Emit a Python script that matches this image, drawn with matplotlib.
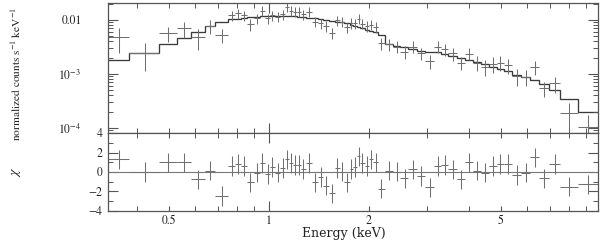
import numpy as np
import matplotlib
matplotlib.use('Agg')
import matplotlib.pyplot as plt
from matplotlib.ticker import FixedLocator, FixedFormatter, NullFormatter, LogLocator, MultipleLocator

# ---------------- data ----------------
energy_edges = [0.3274, 0.3788, 0.4663, 0.5283, 0.5809, 0.6418, 0.6876, 0.7551, 0.7900, 0.8235,
                0.8602, 0.8981, 0.9363, 0.9727, 1.007, 1.041, 1.082, 1.120, 1.150, 1.181,
                1.212, 1.247, 1.291, 1.345, 1.405, 1.457, 1.513, 1.577, 1.633, 1.685,
                1.748, 1.795, 1.837, 1.884, 1.940, 1.998, 2.058, 2.130, 2.231, 2.355,
                2.489, 2.631, 2.786, 2.957, 3.145, 3.304, 3.468, 3.677, 3.894, 4.125,
                4.360, 4.606, 4.851, 5.096, 5.401, 5.754, 6.118, 6.496, 6.963, 7.523,
                8.524, 9.794]

model_flux = [1.82e-3, 2.48e-3, 3.59e-3, 4.58e-3, 6.07e-3, 7.84e-3, 9.06e-3, 1.022e-2, 1.066e-2, 1.098e-2,
              1.127e-2, 1.151e-2, 1.171e-2, 1.186e-2, 1.196e-2, 1.201e-2, 1.201e-2, 1.196e-2, 1.186e-2, 1.176e-2,
              1.161e-2, 1.137e-2, 1.108e-2, 1.071e-2, 1.030e-2, 1.000e-2, 9.66e-3, 9.38e-3, 9.11e-3, 8.73e-3,
              8.25e-3, 7.81e-3, 7.42e-3, 7.02e-3, 6.64e-3, 6.26e-3, 5.92e-3, 5.39e-3, 3.67e-3, 3.26e-3,
              3.10e-3, 2.90e-3, 2.65e-3, 2.60e-3, 2.55e-3, 2.35e-3, 2.15e-3, 1.94e-3, 1.82e-3, 1.67e-3,
              1.50e-3, 1.35e-3, 1.26e-3, 1.14e-3, 9.6e-4, 8.8e-4, 7.7e-4, 6.5e-4, 5.1e-4, 3.5e-4,
              2.0e-4]

data_flux = [4.8e-3, 2.48e-3, 5.68e-3, 7.02e-3, 4.79e-3, 7.74e-3, 5.28e-3, 1.238e-2, 1.330e-2, 1.238e-2,
             8.43e-3, 1.075e-2, 1.486e-2, 1.075e-2, 1.238e-2, 1.151e-2, 1.291e-2, 1.762e-2, 1.486e-2, 1.424e-2,
             1.424e-2, 1.291e-2, 1.424e-2, 9.30e-3, 8.69e-3, 7.74e-3, 5.67e-3, 1.00e-2, 9.30e-3, 7.32e-3,
             8.80e-3, 8.69e-3, 1.066e-2, 8.50e-3, 7.74e-3, 8.25e-3, 7.42e-3, 3.75e-3, 3.60e-3, 3.20e-3,
             2.59e-3, 3.20e-3, 2.42e-3, 1.76e-3, 3.20e-3, 2.87e-3, 2.42e-3, 1.62e-3, 2.38e-3, 1.62e-3,
             1.37e-3, 1.53e-3, 1.62e-3, 1.47e-3, 9.18e-4, 8.91e-4, 1.37e-3, 5.43e-4, 6.73e-4, 1.92e-4,
             1.06e-4]

data_err = [2.3e-3, 1.35e-3, 1.8e-3, 2.3e-3, 2.0e-3, 2.3e-3, 1.6e-3, 2.6e-3, 2.8e-3, 2.6e-3,
            2.2e-3, 2.3e-3, 3.1e-3, 2.3e-3, 2.6e-3, 2.4e-3, 2.7e-3, 3.7e-3, 3.1e-3, 3.0e-3,
            3.0e-3, 2.7e-3, 3.0e-3, 2.0e-3, 1.9e-3, 1.7e-3, 1.3e-3, 2.1e-3, 2.0e-3, 1.6e-3,
            1.9e-3, 1.9e-3, 2.2e-3, 1.8e-3, 1.7e-3, 1.8e-3, 1.6e-3, 9.5e-4, 9.0e-4, 8.0e-4,
            7.0e-4, 8.0e-4, 6.0e-4, 5.0e-4, 8.0e-4, 7.5e-4, 6.5e-4, 4.5e-4, 6.0e-4, 5.0e-4,
            4.5e-4, 5.0e-4, 5.0e-4, 4.5e-4, 3.2e-4, 3.0e-4, 4.0e-4, 1.7e-4, 2.2e-4, 1.0e-4,
            6.8e-5]

chi_resid = [1.3, 0.0, 1.0, 1.0, -0.75, 0.13, -2.46, 0.6, 0.8, 0.6,
             -1.06, -0.07, 0.9, -0.2, 0.5, -0.07, 0.4, 1.3, 0.9, 0.7,
             0.7, 0.3, 0.9, -1.06, -0.5, -1.4, -2.2, 0.4, 0.03, -1.06,
             0.3, 0.5, 1.6, 0.9, 0.6, 1.3, 1.0, -1.7, 0.14, 0.04,
             -0.65, 0.28, -0.41, -1.57, 0.6, 0.7, 0.28, -0.75, 1.0, 0.13,
             -0.07, 0.6, 0.8, 0.8, -0.3, -0.07, 1.5, -0.65, 0.8, -1.5,
             -1.26]

x_tick_values = [0.5, 1, 2, 5]
x_tick_labels = ['0.5', '1', '2', '5']
top_tick_values = [1e-4, 1e-3, 1e-2]
top_tick_labels = [r'$10^{-4}$', r'$10^{-3}$', '0.01']
res_tick_values = [-4, -2, 0, 2, 4]
res_tick_labels = ['\u22124', '\u22122', '0', '2', '4']

# ---------------- style ----------------
plt.rcParams['font.family'] = ['STIXGeneral', 'DejaVu Serif']
plt.rcParams['mathtext.fontset'] = 'stix'

frame_c = '#555555'
data_c = '#707070'
model_c = '#3a3a3a'

edges = np.array(energy_edges)
lo, hi = edges[:-1], edges[1:]
centers = 0.5 * (lo + hi)
xerr = [centers - lo, hi - centers]

fig = plt.figure(figsize=(6.0, 2.41), dpi=100)
ax1 = fig.add_axes([0.18, 0.4481, 0.8167, 0.5394])
ax2 = fig.add_axes([0.18, 0.1245, 0.8167, 0.3236])

xlim = (edges[0], edges[-1])

# top panel
ax1.errorbar(centers, data_flux, xerr=xerr, yerr=data_err, fmt='none',
             ecolor=data_c, elinewidth=0.75, capsize=0)
ax1.stairs(model_flux, edges, color=model_c, linewidth=0.95, baseline=None)
ax1.set_xscale('log')
ax1.set_yscale('log')
ax1.set_xlim(*xlim)
ax1.set_ylim(8.08e-5, 2.064e-2)

# residual panel
ax2.axhline(0, color='#777777', linewidth=0.8)
ax2.errorbar(centers, chi_resid, xerr=xerr, yerr=1.0, fmt='none',
             ecolor=data_c, elinewidth=0.75, capsize=0)
ax2.set_xscale('log')
ax2.set_xlim(*xlim)
ax2.set_ylim(-4, 4)

for ax in (ax1, ax2):
    for s in ax.spines.values():
        s.set_color(frame_c)
        s.set_linewidth(0.9)
    ax.xaxis.set_major_locator(FixedLocator([1, 10]))
    ax.xaxis.set_minor_locator(FixedLocator([0.4, 0.5, 0.6, 0.7, 0.8, 0.9, 2, 3, 4, 5, 6, 7, 8, 9]))
    ax.xaxis.set_major_formatter(NullFormatter())
    ax.xaxis.set_minor_formatter(NullFormatter())
    ax.tick_params(which='both', direction='in', top=True, right=True, color=frame_c,
                   labelsize=8.5, labelcolor='#222222')
    ax.tick_params(which='major', length=7, width=0.8)
    ax.tick_params(which='minor', length=3.5, width=0.7)

ax1.tick_params(axis='x', labelbottom=False)
ax1.yaxis.set_major_locator(FixedLocator(top_tick_values))
ax1.yaxis.set_major_formatter(FixedFormatter(top_tick_labels))
ax1.yaxis.set_minor_locator(LogLocator(base=10, subs=np.arange(2, 10)))
ax1.yaxis.set_minor_formatter(NullFormatter())
ax1.tick_params(axis='y', which='major', pad=19)

ax2.yaxis.set_major_locator(FixedLocator(res_tick_values))
ax2.yaxis.set_major_formatter(FixedFormatter(res_tick_labels))
ax2.yaxis.set_minor_locator(MultipleLocator(1))
ax2.tick_params(axis='y', which='major', pad=4)

# x labels on the residual panel at 0.5, 1, 2, 5 (only 1 gets a long tick)
ax2.set_xticks(x_tick_values, minor=False)
ax2.set_xticklabels(x_tick_labels)
ax2.xaxis.set_minor_locator(FixedLocator([0.4, 0.6, 0.7, 0.8, 0.9, 3, 4, 6, 7, 8, 9]))
ax2.tick_params(axis='x', which='major', pad=3)
for t in ax2.xaxis.get_major_ticks():
    if t.get_loc() != 1:
        t.tick1line.set_markersize(3.5)
        t.tick2line.set_markersize(3.5)

fig.text(16 / 600, 1 - 74 / 241, 'normalized counts s$^{-1}$ keV$^{-1}$', rotation=90,
         ha='center', va='center', fontsize=8.2, color='#222222')
fig.text(16 / 600, 1 - 172 / 241, r'$\chi$', rotation=90,
         ha='center', va='center', fontsize=10, color='#222222')
fig.text(344 / 600, 1 - 234 / 241, 'Energy (keV)', ha='center', va='center',
         fontsize=9, color='#222222', family=['DejaVu Serif'])

fig.savefig('out.png', dpi=100)
